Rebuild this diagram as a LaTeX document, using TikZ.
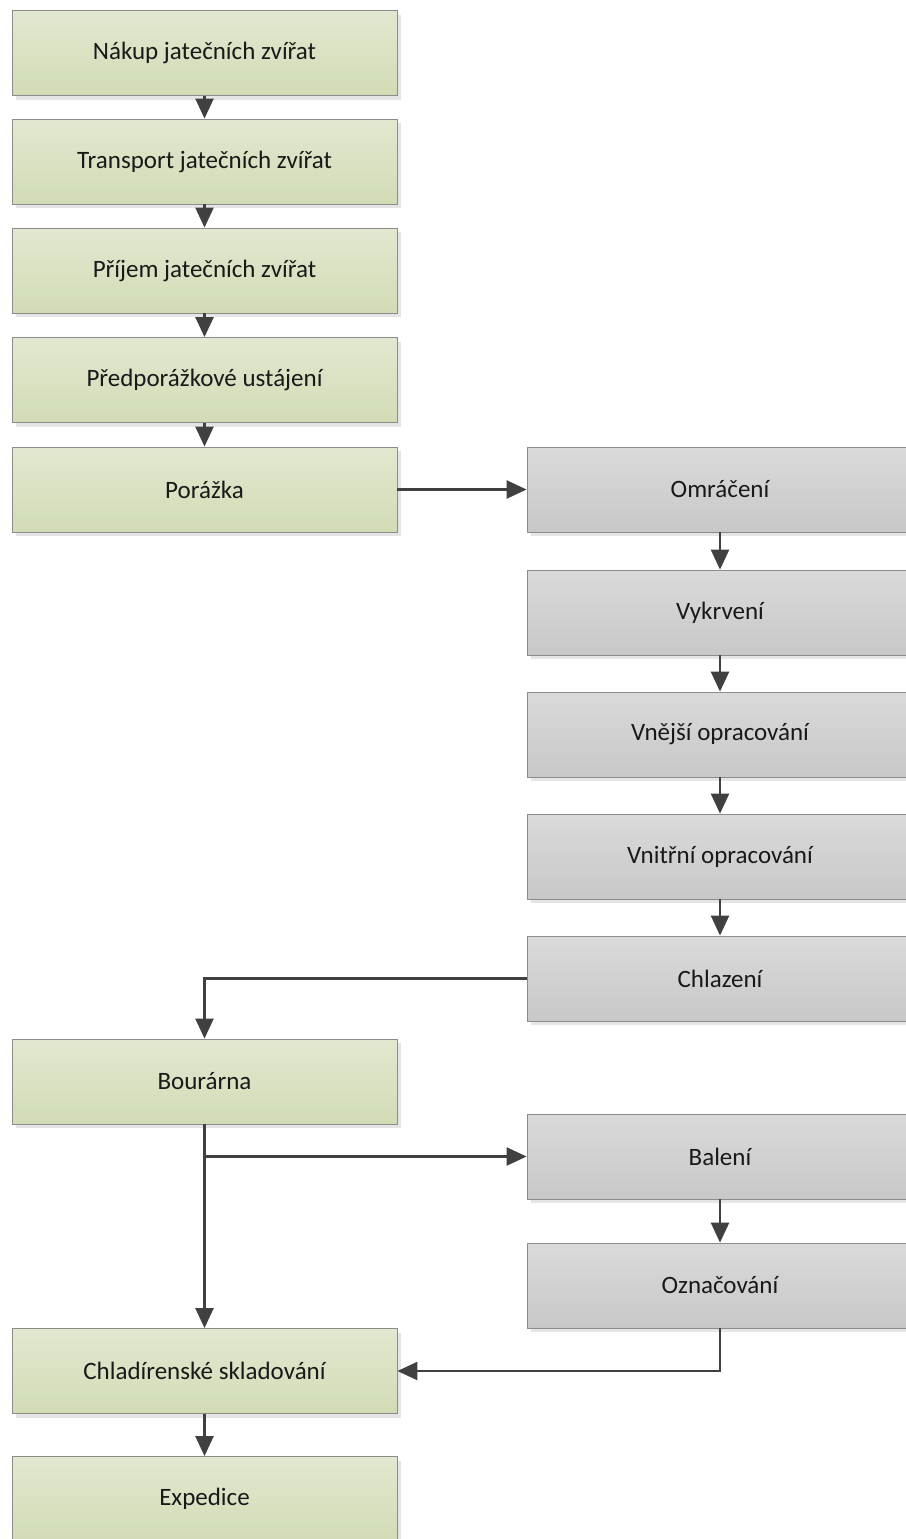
\documentclass[tikz,border=0pt]{standalone}
\usepackage{fontspec}
\setmainfont{Carlito}
\usepackage{xcolor}
\usetikzlibrary{arrows.meta,positioning,shadows}

\definecolor{linegray}{HTML}{404040}
\definecolor{framegray}{HTML}{8C8C8C}
\definecolor{greentop}{HTML}{E1E8D0}
\definecolor{greenbot}{HTML}{D1DCB5}
\definecolor{graytop}{HTML}{DADADA}
\definecolor{graybot}{HTML}{C8C8C8}

\begin{document}
\begin{tikzpicture}[x=1pt,y=-1pt,>={Triangle[length=20pt,width=18pt]},
 stage/.style={draw=framegray,line width=0.8pt,minimum width=385pt,minimum height=85pt,
   font=\fontsize{25}{30}\selectfont,text=black!90,
   drop shadow={shadow xshift=4pt,shadow yshift=-4pt,fill=black!10,opacity=1}},
 animal/.style={stage,top color=greentop,bottom color=greenbot},
 carcass/.style={stage,top color=graytop,bottom color=graybot,minimum width=386pt},
 flow/.style={->,line width=2.4pt,draw=linegray}]
\useasboundingbox (0,0) rectangle (905,1539);
% left column
\node[animal] (nakup) at (204.5,53) {Nákup jatečních zvířat};
\node[animal] (transport) at (204.5,161.5) {Transport jatečních zvířat};
\node[animal] (prijem) at (204.5,270.5) {Příjem jatečních zvířat};
\node[animal] (ustajeni) at (204.5,380) {Předporážkové ustájení};
\node[animal] (porazka) at (204.5,489.5) {Porážka};
\node[animal] (bourarna) at (204.5,1081.5) {Bourárna};
\node[animal] (sklad) at (204.5,1371) {Chladírenské skladování};
\node[animal] (expedice) at (204.5,1499) {Expedice};
% right column
\node[carcass] (omraceni) at (720,489.5) {Omráčení};
\node[carcass] (vykrveni) at (720,612.5) {Vykrvení};
\node[carcass] (vnejsi) at (720,734.5) {Vnější opracování};
\node[carcass] (vnitrni) at (720,856.5) {Vnitřní opracování};
\node[carcass] (chlazeni) at (720,978.5) {Chlazení};
\node[carcass] (baleni) at (720,1156.5) {Balení};
\node[carcass] (oznacovani) at (720,1285.5) {Označování};
\coordinate (split) at (bourarna.south |- baleni.west);
% connectors
\draw[flow] (nakup) -- (transport);
\draw[flow] (transport) -- (prijem);
\draw[flow] (prijem) -- (ustajeni);
\draw[flow] (ustajeni) -- (porazka);
\draw[flow] (porazka) -- (omraceni);
\draw[flow] (omraceni) -- (vykrveni);
\draw[flow] (vykrveni) -- (vnejsi);
\draw[flow] (vnejsi) -- (vnitrni);
\draw[flow] (vnitrni) -- (chlazeni);
\draw[flow] (chlazeni.west) -| (bourarna.north);
\draw[flow] (bourarna) -- (sklad);
\draw[flow] (split) -- (baleni.west);
\draw[flow] (baleni) -- (oznacovani);
\draw[flow] (oznacovani.south) |- (sklad.east);
\draw[flow] (sklad) -- (expedice);
\end{tikzpicture}
\end{document}
